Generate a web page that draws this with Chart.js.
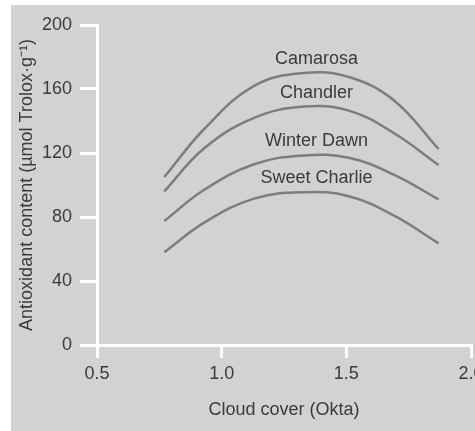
<!DOCTYPE html>
<html>
<head>
<meta charset="utf-8">
<script src="https://cdn.jsdelivr.net/npm/chart.js@4/dist/chart.umd.min.js"></script>
<style>
    html, body { margin: 0; padding: 0; background: #fff; overflow: hidden; }
    #wrap { position: absolute; left: 11px; top: 5px; width: 484px; height: 426px; }
    canvas { background: #d1d2d4; }
</style>
</head>
<body>
<div id="wrap"><canvas id="antioxGraph" width="484" height="426"></canvas></div>
<script>
// cloud cover (Okta) sample positions
const cloudCover = [0.77, 0.93, 1.13, 1.33, 1.51, 1.69, 1.87];

// antioxidant content per cultivar
const camarosa     = [105, 135, 162, 170, 167.5, 153, 122.5];
const chandler     = [96, 123, 142, 149, 146.5, 132.5, 112.5];
const winterDawn   = [77.5, 97, 113, 118.5, 117, 106.5, 91];
const sweetCharlie = [58, 76.5, 91.5, 95.5, 93, 81, 63.5];

const cultivars = ['Camarosa', 'Chandler', 'Winter Dawn', 'Sweet Charlie'];

const xTicks = [0.5, 1.0, 1.5, 2.0];
const yTicks = [0, 40, 80, 120, 160, 200];

const textColor = '#3b3b3b';
const lineColor = '#7d7d7d';
const fontFamily = '"Liberation Sans", Arial, sans-serif';

function toPoints(values) {
    return values.map((v, i) => ({ x: cloudCover[i], y: v }));
}

// draws each cultivar name just above the top of its curve
const curveLabels = {
    id: 'curveLabels',
    afterDatasetsDraw(chart) {
        const ctx = chart.ctx;
        const xScale = chart.scales.x;
        const yScale = chart.scales.y;
        ctx.save();
        ctx.font = '18px ' + fontFamily;
        ctx.fillStyle = textColor;
        ctx.textAlign = 'center';
        ctx.textBaseline = 'middle';
        chart.data.datasets.forEach(ds => {
            const top = Math.max(...ds.data.map(p => p.y));
            ctx.fillText(ds.label, xScale.getPixelForValue(1.38), yScale.getPixelForValue(top) - 14);
        });
        ctx.restore();
    }
};

const chart = new Chart(document.getElementById('antioxGraph').getContext('2d'), {
    type: 'line',
    data: {
        datasets: [camarosa, chandler, winterDawn, sweetCharlie].map((vals, i) => ({
            label: cultivars[i],
            data: toPoints(vals),
            borderColor: lineColor,
            borderWidth: 2.5,
            pointRadius: 0,
            fill: false,
            tension: 0.4
        }))
    },
    options: {
        responsive: false,
        devicePixelRatio: 1,
        animation: false,
        layout: { padding: { top: 20, right: 24, bottom: 0, left: 0 } },
        plugins: {
            legend: { display: false },
            tooltip: { enabled: false }
        },
        scales: {
            x: {
                type: 'linear',
                min: 0.5,
                max: 2.0,
                afterBuildTicks: s => { s.ticks = xTicks.map(v => ({ value: v })); },
                afterFit: s => { s.height = 86; },
                border: { display: true, color: '#fff', width: 3 },
                grid: { drawOnChartArea: false, drawTicks: true, tickLength: 13, color: '#fff', lineWidth: 3 },
                ticks: {
                    color: textColor,
                    padding: 5,
                    maxRotation: 0,
                    font: { family: fontFamily, size: 18 },
                    callback: v => v.toFixed(1)
                },
                title: {
                    display: true,
                    text: 'Cloud cover (Okta)',
                    color: textColor,
                    font: { family: fontFamily, size: 18 },
                    padding: { top: 0, bottom: 10 }
                }
            },
            y: {
                min: 0,
                max: 200,
                afterBuildTicks: s => { s.ticks = yTicks.map(v => ({ value: v })); },
                afterFit: s => { s.width = 86; },
                border: { display: true, color: '#fff', width: 3 },
                grid: { drawOnChartArea: false, drawTicks: true, tickLength: 17, color: '#fff', lineWidth: 3 },
                ticks: {
                    color: textColor,
                    padding: 8,
                    font: { family: fontFamily, size: 18 }
                },
                title: {
                    display: true,
                    text: 'Antioxidant content (µmol Trolox·g⁻¹)',
                    color: textColor,
                    font: { family: fontFamily, size: 18 },
                    padding: { top: 5, bottom: 0 }
                }
            }
        }
    },
    plugins: [curveLabels]
});
</script>
</body>
</html>
